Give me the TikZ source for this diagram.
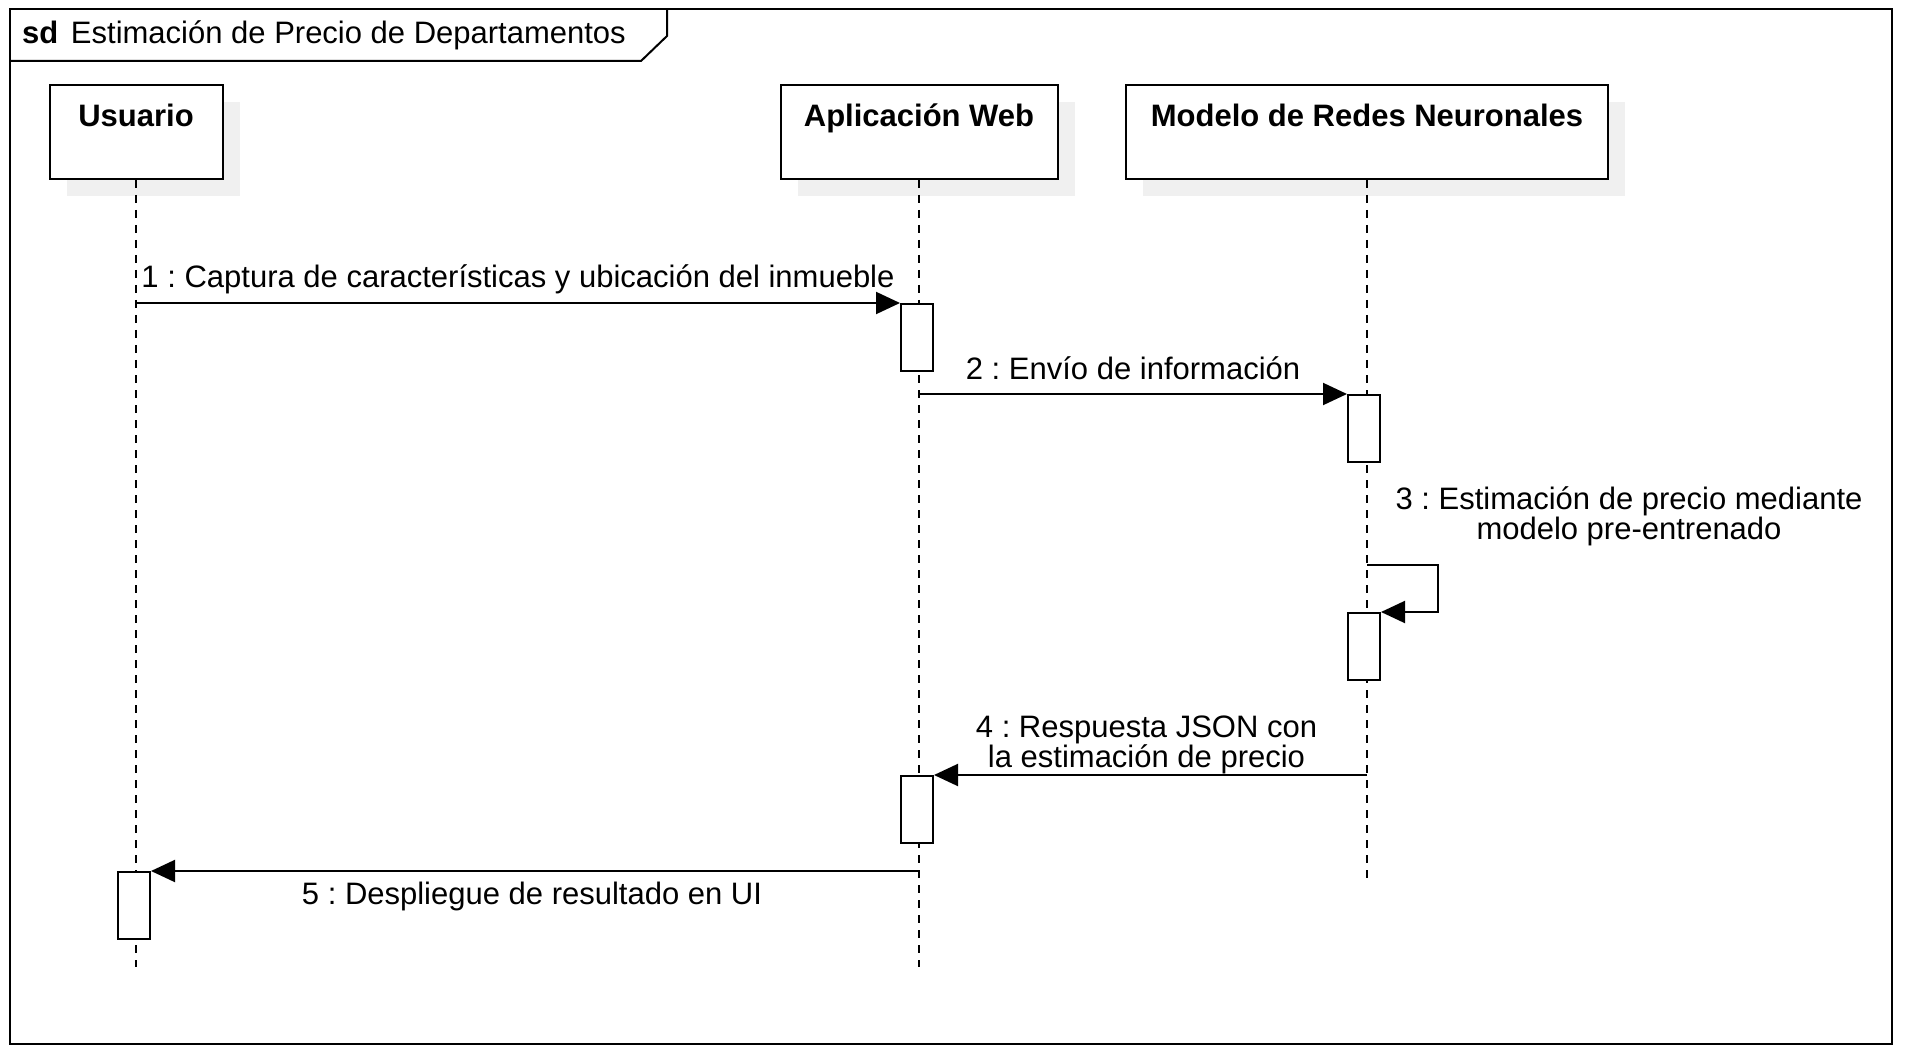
\documentclass[tikz,border=0pt]{standalone}
\usepackage{fontspec}
\setmainfont{Liberation Sans}
\usepackage{tikz}
\usetikzlibrary{arrows.meta, shadows}
\tikzset{>={Triangle[length=24pt,width=22pt]}}
\tikzset{
	actor/.style={draw, line width=2pt, fill=white, inner sep=0pt, text height=42pt, text depth=52pt,
		font=\fontsize{31pt}{30pt}\selectfont\bfseries,
		drop shadow={shadow xshift=17pt, shadow yshift=-17pt, fill=black!6, opacity=1}},
	act/.style={draw, line width=2pt, fill=white, minimum width=32pt, minimum height=67pt, inner sep=0pt, anchor=north},
	lifeline/.style={line width=2.2pt, dash pattern=on 8pt off 7pt},
	msg/.style={->, line width=2pt},
	lbl/.style={align=center, inner sep=0pt}
}
\frenchspacing

\begin{document}
\begin{tikzpicture}[x=1pt, y=-1pt, font=\fontsize{31pt}{30pt}\selectfont]
	\useasboundingbox (0,0) rectangle (1908,1064);
	% marco sd
	\draw [line width=2pt] (10,9) rectangle (1892,1044);
	\draw [line width=2pt] (10,61) -- (641,61) -- (667,36) -- (667,9);
	\node [anchor=west, inner sep=0pt] (title) at (22,35) {\textbf{sd}\hspace{4pt} Estimación de Precio de Departamentos};
	% participantes
	\node [actor, minimum width=173pt] (usr) at (136,132) {Usuario};
	\node [actor, minimum width=277pt] (web) at (919,132) {Aplicación Web};
	\node [actor, minimum width=482pt] (nn) at (1367,132) {Modelo de Redes Neuronales};
	\coordinate (usrEnd) at (136,967);
	\coordinate (webEnd) at (919,967);
	\coordinate (nnEnd) at (1367,879);
	\draw [lifeline] (usr.south) -- (usrEnd);
	\draw [lifeline] (web.south) -- (webEnd);
	\draw [lifeline] (nn.south) -- (nnEnd);
	% activaciones
	\node [act] (w1) at (917,303) {};
	\node [act] (n1) at (1364,394) {};
	\node [act] (n2) at (1364,612) {};
	\node [act] (w2) at (917,775) {};
	\node [act] (u1) at (134,871) {};
	% mensajes
	\coordinate (m1) at (136,303);
	\draw [msg] (m1) -- node [lbl, yshift=23.5pt] {1 : Captura de características y ubicación del inmueble} (w1.north west);
	\coordinate (m2) at (919,394);
	\draw [msg] (m2) -- node [lbl, yshift=26pt] {2 : Envío de información} (n1.north west);
	\coordinate (m3) at (1367,565);
	\coordinate (m3r) at (1438,565);
	\draw [msg] (m3) -- (m3r) |- (n2.north east);
	\node [lbl] (l3) at (1629,516.5) {3 : Estimación de precio mediante\\modelo pre-entrenado};
	\coordinate (m4) at (1367,775);
	\draw [msg] (m4) -- node [lbl, xshift=-4pt, yshift=30.5pt] {4 : Respuesta JSON con\\la estimación de precio} (w2.north east);
	\coordinate (m5) at (919,871);
	\draw [msg] (m5) -- node [lbl, xshift=-3pt, yshift=-25.5pt] {5 : Despliegue de resultado en UI} (u1.north east);
\end{tikzpicture}
\end{document}
